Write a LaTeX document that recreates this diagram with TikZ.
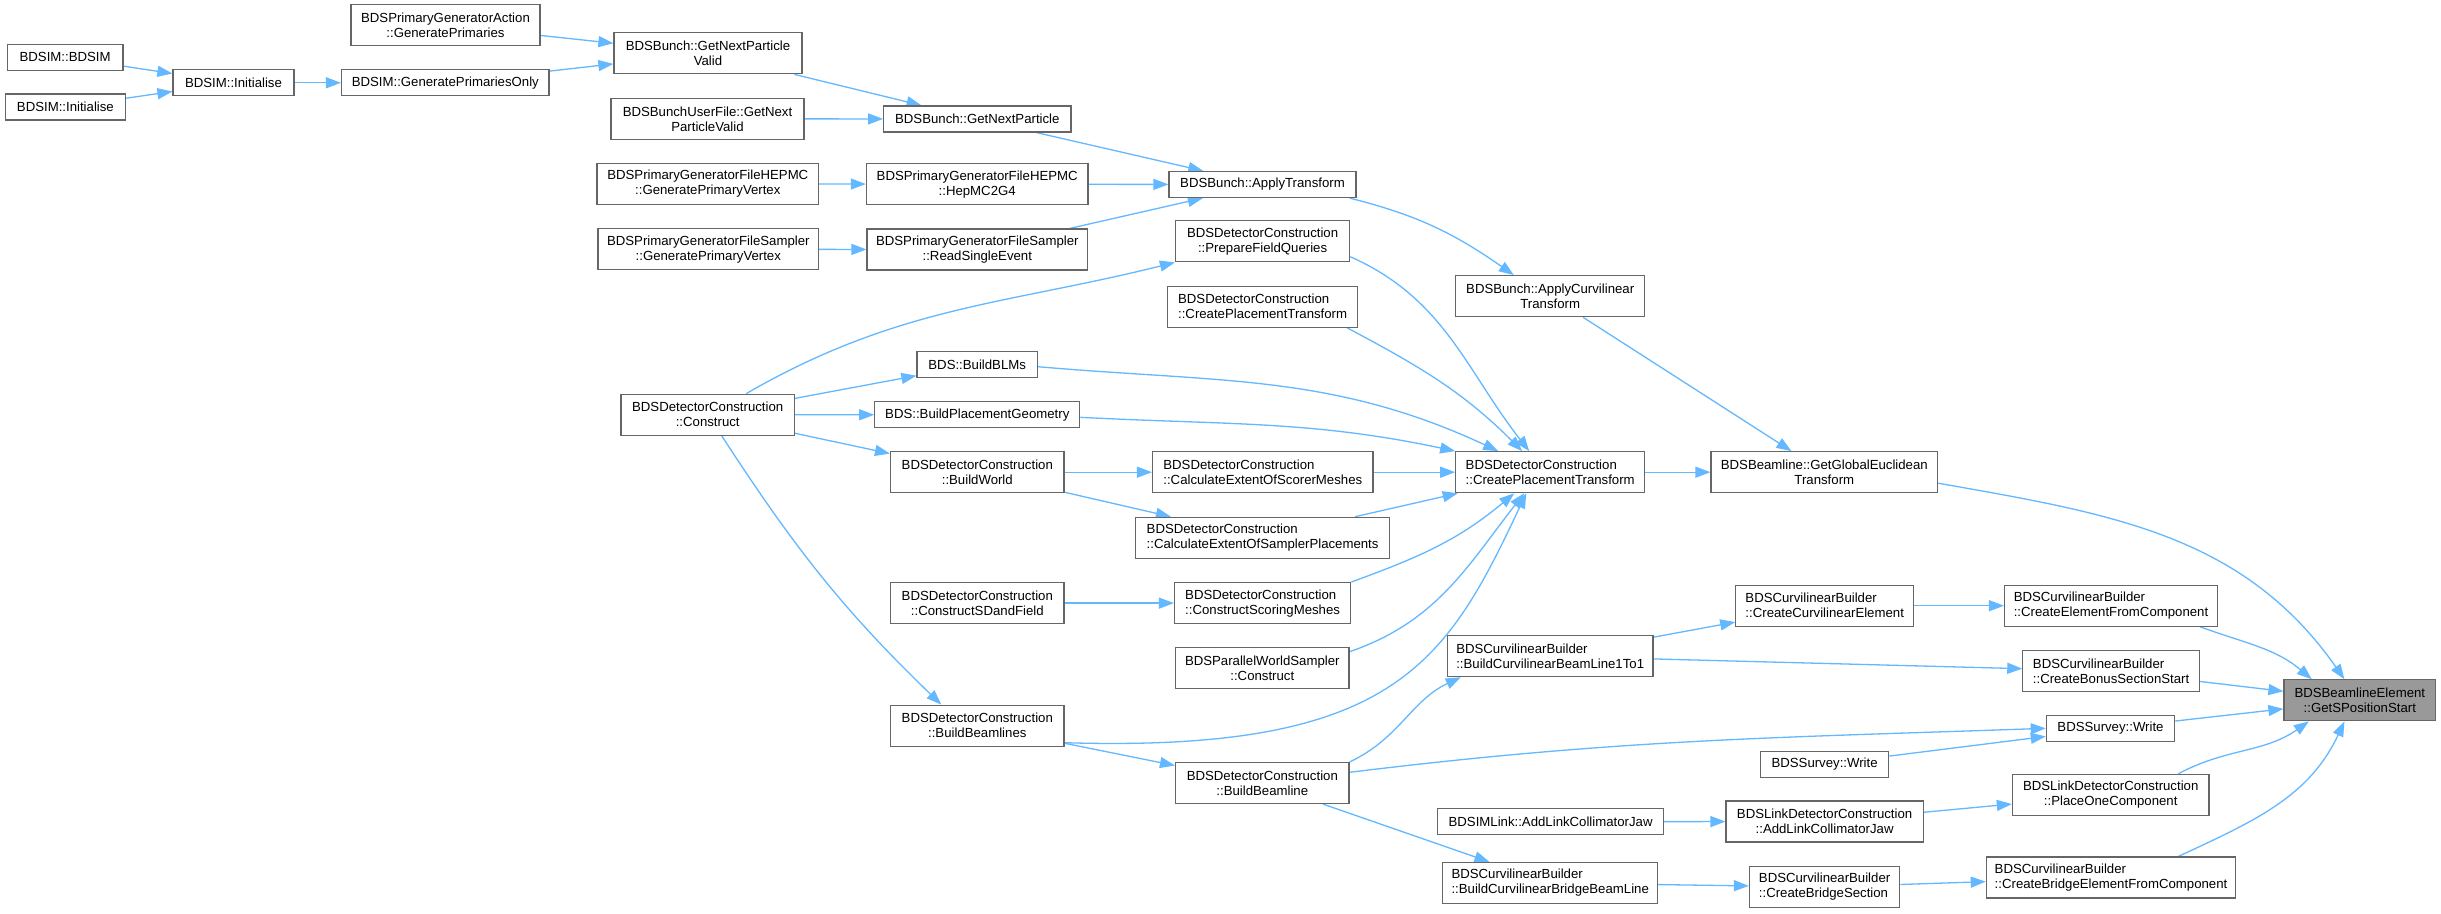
\documentclass[tikz,border=0pt]{standalone}
\usepackage{fontspec}
\setmainfont{Liberation Sans}
\usetikzlibrary{arrows.meta,calc,backgrounds}
\definecolor{edgeblue}{HTML}{63B8FF}
\definecolor{boxgray}{HTML}{666666}
\definecolor{targetgray}{HTML}{999999}
\begin{document}
\begin{tikzpicture}[x=1pt,y=1pt,
  box/.style={draw=boxgray, fill=white, line width=1.2pt, inner xsep=3pt, inner ysep=0pt, align=center, font=\fontsize{13.2}{15}\selectfont, minimum height=26pt},
  two/.style={minimum height=41pt},
  lbox/.style={align=left},
  edge/.style={draw=edgeblue, line width=1.3pt, -{Triangle[length=15pt,width=11pt]}},
]
\useasboundingbox (0,0) rectangle (2441,-913);
% nodes
\node[box, minimum width=115.6pt] (bdsim) at (65.1,-57.3) {BDSIM::BDSIM};
\node[box, minimum width=120.3pt] (initL) at (65.4,-106.9) {BDSIM::Initialise};
\node[box, minimum width=121pt] (initM) at (233.5,-82.8) {BDSIM::Initialise};
\node[box, minimum width=207.5pt] (gpo) at (445.3,-82.8) {BDSIM::GeneratePrimariesOnly};
\node[box, two, minimum width=189pt] (pga) at (445.5,-25.3) {BDSPrimaryGeneratorAction\\::GeneratePrimaries};
\node[box, two, minimum width=188pt] (gnpv) at (708,-53.3) {BDSBunch::GetNextParticle\\Valid};
\node[box, two, minimum width=193pt] (buf) at (707.5,-118.8) {BDSBunchUserFile::GetNext\\ParticleValid};
\node[box, two, minimum width=221.5pt] (hepgpv) at (707.8,-183.8) {BDSPrimaryGeneratorFileHEPMC\\::GeneratePrimaryVertex};
\node[box, two, minimum width=220.5pt] (samgpv) at (708.3,-249.3) {BDSPrimaryGeneratorFileSampler\\::GeneratePrimaryVertex};
\node[box, minimum width=187.3pt] (gnp) at (977.3,-119) {BDSBunch::GetNextParticle};
\node[box, two, minimum width=221.6pt] (hepmc) at (977.2,-184.2) {BDSPrimaryGeneratorFileHEPMC\\::HepMC2G4};
\node[box, two, minimum width=220.6pt] (rse) at (977.3,-249.5) {BDSPrimaryGeneratorFileSampler\\::ReadSingleEvent};
\node[box, minimum width=187pt] (applyT) at (1262.5,-184.5) {BDSBunch::ApplyTransform};
\node[box, two, minimum width=174.2pt] (pfq) at (1262.6,-241.3) {BDSDetectorConstruction\\::PrepareFieldQueries};
\node[box, two, lbox, minimum width=189.8pt] (cpts) at (1262.6,-306.7) {BDSDetectorConstruction\\::CreatePlacementTransform};
\node[box, two, minimum width=188.8pt] (applyCT) at (1550.2,-296.2) {BDSBunch::ApplyCurvilinear\\Transform};
\node[box, two, minimum width=173.4pt] (construct) at (707.7,-414.7) {BDSDetectorConstruction\\::Construct};
\node[box, minimum width=120.4pt] (blms) at (977.2,-364.3) {BDS::BuildBLMs};
\node[box, minimum width=205pt] (bpg) at (977.3,-414.8) {BDS::BuildPlacementGeometry};
\node[box, two, minimum width=173.5pt] (bworld) at (977.3,-472.2) {BDSDetectorConstruction\\::BuildWorld};
\node[box, two, lbox, minimum width=220.5pt] (cesm) at (1262.8,-472.2) {BDSDetectorConstruction\\::CalculateExtentOfScorerMeshes};
\node[box, two, lbox, minimum width=188.8pt] (cpt) at (1550.2,-472.2) {BDSDetectorConstruction\\::CreatePlacementTransform};
\node[box, two, minimum width=226.6pt] (gget) at (1824.3,-472.2) {BDSBeamline::GetGlobalEuclidean\\Transform};
\node[box, two, lbox, minimum width=253.6pt] (cesp) at (1262.6,-537.8) {BDSDetectorConstruction\\::CalculateExtentOfSamplerPlacements};
\node[box, two, minimum width=173.5pt] (csdf) at (977.3,-603.1) {BDSDetectorConstruction\\::ConstructSDandField};
\node[box, two, lbox, minimum width=176.2pt] (csm) at (1262.6,-603.1) {BDSDetectorConstruction\\::ConstructScoringMeshes};
\node[box, two, minimum width=173.5pt] (pws) at (1262.3,-668.2) {BDSParallelWorldSampler\\::Construct};
\node[box, two, minimum width=173.5pt] (bbls) at (977.3,-725.7) {BDSDetectorConstruction\\::BuildBeamlines};
\node[box, two, minimum width=173.5pt] (bbl) at (1262.3,-783) {BDSDetectorConstruction\\::BuildBeamline};
\node[box, two, lbox, minimum width=205.7pt] (bcbl) at (1550.2,-656.2) {BDSCurvilinearBuilder\\::BuildCurvilinearBeamLine1To1};
\node[box, minimum width=225.9pt] (linkjaw) at (1550.6,-821.7) {BDSIMLink::AddLinkCollimatorJaw};
\node[box, two, lbox, minimum width=214.8pt] (bcbbl) at (1550.2,-883) {BDSCurvilinearBuilder\\::BuildCurvilinearBridgeBeamLine};
\node[box, two, lbox, minimum width=177.7pt] (cce) at (1824.7,-605.7) {BDSCurvilinearBuilder\\::CreateCurvilinearElement};
\node[box, minimum width=128.2pt] (surveyL) at (1824.6,-764.2) {BDSSurvey::Write};
\node[box, two, minimum width=197.2pt] (ljaw) at (1824.6,-821.5) {BDSLinkDetectorConstruction\\::AddLinkCollimatorJaw};
\node[box, two, lbox, minimum width=150.4pt] (cbs) at (1824.6,-887) {BDSCurvilinearBuilder\\::CreateBridgeSection};
\node[box, two, lbox, minimum width=212.9pt] (cefc) at (2111,-605.7) {BDSCurvilinearBuilder\\::CreateElementFromComponent};
\node[box, two, lbox, minimum width=176.5pt] (cbss) at (2111.1,-671) {BDSCurvilinearBuilder\\::CreateBonusSectionStart};
\node[box, minimum width=128.3pt] (surveyR) at (2110.5,-728.3) {BDSSurvey::Write};
\node[box, two, minimum width=196.6pt] (poc) at (2110.7,-794.8) {BDSLinkDetectorConstruction\\::PlaceOneComponent};
\node[box, two, lbox, minimum width=249.3pt] (cbefc) at (2111,-877.5) {BDSCurvilinearBuilder\\::CreateBridgeElementFromComponent};
\node[box, two, fill=targetgray, minimum width=151.6pt] (target) at (2359.8,-700.3) {BDSBeamlineElement\\::GetSPositionStart};
% edges
\begin{scope}[on background layer]
\fill[white] (0,0) rectangle (2441,-913);
\draw[edge] (bdsim) -- (initM);
\draw[edge] (initL) -- (initM);
\draw[edge] (initM) -- (gpo);
\draw[edge] (gpo) -- (gnpv);
\draw[edge] (pga) -- (gnpv);
\draw[edge] (gnpv) -- (gnp);
\draw[edge] (buf) -- (gnp);
\draw[edge] (gnp) -- (applyT);
\draw[edge] (hepgpv) -- (hepmc);
\draw[edge] (hepmc) -- (applyT);
\draw[edge] (samgpv) -- (rse);
\draw[edge] (rse) -- (applyT);
\draw[edge] ($(applyT.south east)+(-7,0)$) to[out=-14,in=145] ($(applyCT.north)+(-36.4,0)$);
\draw[edge] (applyCT) -- (gget);
\draw[edge] ($(construct.north)+(38.5,0)$) to[out=30,in=-166] (pfq.south west);
\draw[edge] (construct) -- (blms);
\draw[edge] (construct) -- (bpg);
\draw[edge] (construct) -- (bworld);
\draw[edge] ($(construct.south)+(14,0)$) to[out=-57,in=136] ($(bbls.north)+(-36,0)$);
\draw[edge] ($(pfq.east)+(0,-15.4)$) to[out=-24,in=128] ($(cpt.north)+(-21,0)$);
\draw[edge] ($(cpts.south east)+(-11,0)$) to[out=-28,in=135] ($(cpt.north)+(-28,0)$);
\draw[edge] ($(blms.east)+(0,-2.4)$) to[out=-5,in=155] ($(cpt.north)+(-52,0)$);
\draw[edge] ($(bpg.east)+(0,-2.5)$) to[out=-3,in=168] (cpt.north west);
\draw[edge] (bworld) -- (cesm);
\draw[edge] (bworld) -- (cesp);
\draw[edge] (cesm) -- (cpt);
\draw[edge] (cesp) -- (cpt);
\draw[edge] (csdf) -- (csm);
\draw[edge] (csm.north east) to[out=20,in=-140] ($(cpt.south)+(-36,0)$);
\draw[edge] ($(pws.east)+(0,16.5)$) to[out=19,in=-128] ($(cpt.south)+(-26,0)$);
\draw[edge] ($(bbls.east)+(0,-17)$) .. controls +(330,-10) and +(-80,-170) .. ($(cpt.south)+(-24,0)$);
\draw[edge] (cpt) -- (gget);
\draw[edge] (bbls) -- (bbl);
\draw[edge] (bbl.north east) to[out=25,in=-155] ($(bcbl.south west)+(14,0)$);
\draw[edge] ($(bbl.east)+(0,10.7)$) to[out=7,in=182] (surveyR.west);
\draw[edge] (bbl) -- (bcbbl);
\draw[edge] (bcbl) -- (cce);
\draw[edge] (bcbl) -- (cbss);
\draw[edge] (cce) -- (cefc);
\draw[edge] (surveyL) -- (surveyR);
\draw[edge] (linkjaw) -- (ljaw);
\draw[edge] (ljaw) -- (poc);
\draw[edge] (bcbbl) -- (cbs);
\draw[edge] (cbs) -- (cbefc);
\draw[edge] ($(gget.east)+(0,-11)$) to[out=-10,in=125] ($(target.north)+(-15.4,0)$);
\draw[edge] ($(cefc.south east)+(-18,0)$) to[out=-20,in=140] ($(target.north)+(-48,0)$);
\draw[edge] (cbss) -- (target);
\draw[edge] (surveyR) -- (target);
\draw[edge] ($(poc.north)+(67.7,0)$) to[out=28,in=-145] ($(target.south)+(-51,0)$);
\draw[edge] ($(cbefc.north)+(67.4,0)$) to[out=25,in=-115] ($(target.south)+(-15.4,0)$);
\end{scope}
\end{tikzpicture}
\end{document}
